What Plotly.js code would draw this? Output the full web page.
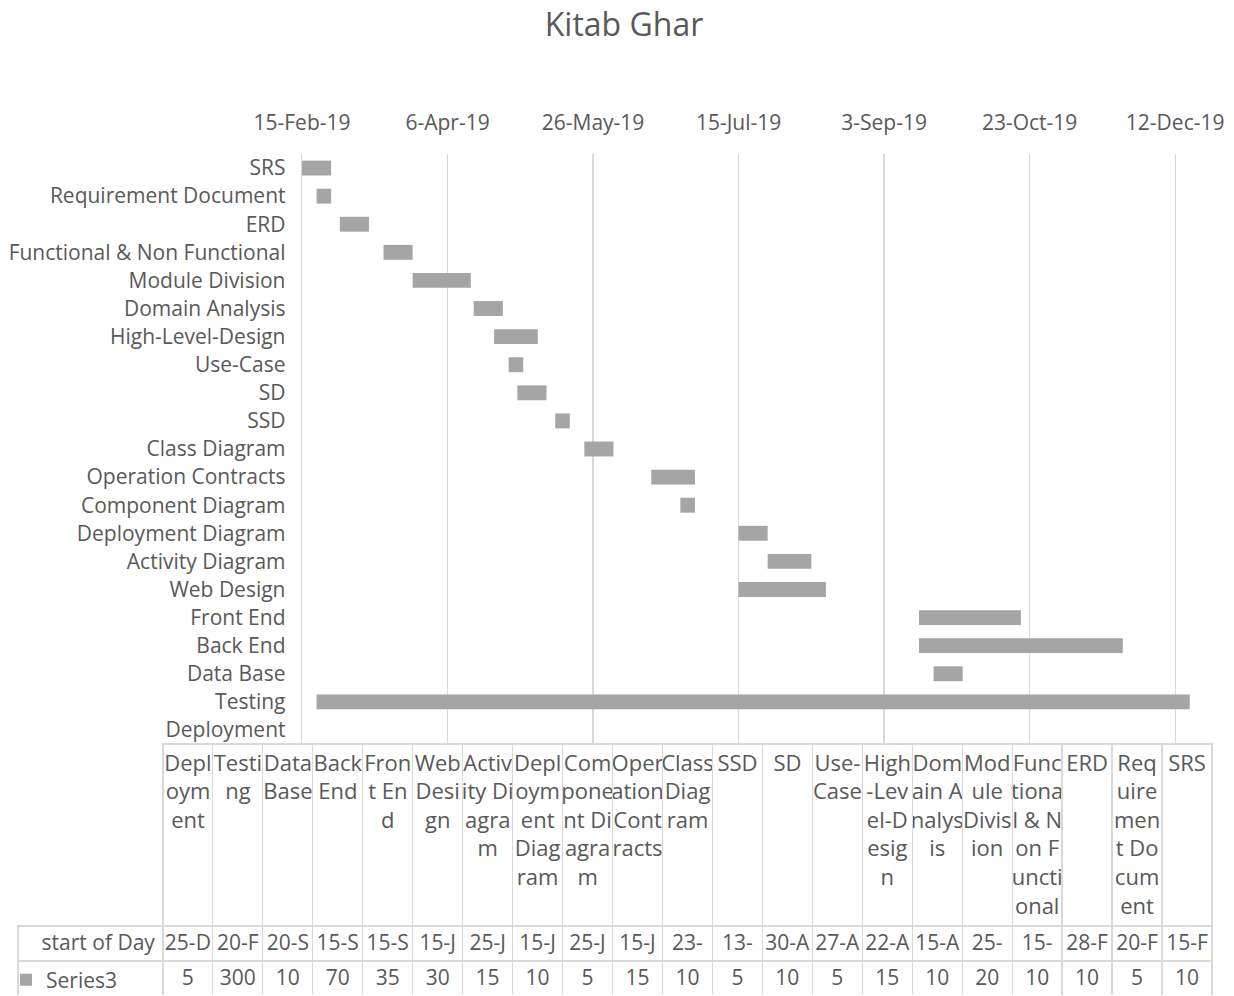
<!DOCTYPE html>
<html><head><meta charset="utf-8">
<script src="https://cdn.plot.ly/plotly-3.0.1.min.js"></script>
<style>html,body{margin:0;padding:0;background:#fff}#chart{width:1234px;height:996px}</style>
</head><body><div id="chart"></div>
<script>
const chartTitle = "Kitab Ghar";
const tasks = ["Deployment","Testing","Data Base","Back End","Front End","Web Design","Activity Diagram","Deployment Diagram","Component Diagram","Operation Contracts","Class Diagram","SSD","SD","Use-Case","High-Level-Design","Domain Analysis","Module Division","Functional & Non Functional","ERD","Requirement Document","SRS"];
const startDates = ["2019-12-25","2019-02-20","2019-09-20","2019-09-15","2019-09-15","2019-07-15","2019-07-25","2019-07-15","2019-06-25","2019-06-15","2019-05-23","2019-05-13","2019-04-30","2019-04-27","2019-04-22","2019-04-15","2019-03-25","2019-03-15","2019-02-28","2019-02-20","2019-02-15"];
const durations = [5,300,10,70,35,30,15,10,5,15,10,5,10,5,15,10,20,10,10,5,10];
const startLabels = ["25-D","20-F","20-S","15-S","15-S","15-J","25-J","15-J","25-J","15-J","23-","13-","30-A","27-A","22-A","15-A","25-","15-","28-F","20-F","15-F"];
const headerLabels = ["Depl<br>oym<br>ent","Testi<br>ng","Data<br>Base","Back<br>End","Fron<br>t En<br>d","Web<br>Desi<br>gn","Activ<br>ity Di<br>agra<br>m","Depl<br>oym<br>ent<br>Diag<br>ram","Com<br>pone<br>nt Di<br>agra<br>m","Oper<br>ation<br>Cont<br>racts","Class<br>Diag<br>ram","SSD","SD","Use-<br>Case","High<br>-Lev<br>el-D<br>esig<br>n","Dom<br>ain A<br>nalys<br>is","Mod<br>ule<br>Divis<br>ion","Func<br>tiona<br>l &amp; N<br>on F<br>uncti<br>onal","ERD","Req<br>uire<br>men<br>t Do<br>cum<br>ent","SRS"];
const rowHeaders = ["start of Day", "Series3"];
const xTickStart = "2019-02-15";
const xRangeEnd = "2019-12-25";
const tickStepDays = 50;

const W = 1234, H = 996;
const DAY = 86400000;
const FONT = '"Open Sans", "Noto Sans", sans-serif';
const GRAY = '#595959';
const BORDER = '#d9d9d9';
const CLEAR = 'rgba(0,0,0,0)';
const py = v => 1 - v / H;
const colW = [145].concat(tasks.map(() => 50));
const tableX = [18 / W, 1212 / W];

const bars = {
  type: 'bar', orientation: 'h', y: tasks, name: rowHeaders[1],
  x: durations.map(d => d * DAY), base: startDates,
  marker: {color: '#a5a5a5'}, hoverinfo: 'skip', showlegend: true
};

// data table: borders + data rows (header cells transparent, their text comes from headerText)
const colVals = [[rowHeaders[0], '']];
tasks.forEach((t, i) => colVals.push([startLabels[i], String(durations[i])]));
const gridTable = {
  type: 'table',
  domain: {x: tableX, y: [0, (H - 744) / H]},
  columnwidth: colW,
  header: {
    values: colW.map(() => ''), height: 182, align: 'center',
    fill: {color: CLEAR},
    line: {color: [CLEAR].concat(tasks.map(() => BORDER)), width: 1.3},
    font: {family: FONT, size: 21, color: GRAY}
  },
  cells: {
    values: colVals, height: 35,
    align: [['right', 'left']].concat(tasks.map(() => 'center')),
    fill: {color: 'white'},
    line: {color: BORDER, width: 1.3},
    font: {family: FONT, size: 21, color: GRAY}
  }
};

// wrapped category names in the table header, placed on a category axis over the table columns
const headerText = {
  type: 'scatter', mode: 'text', xaxis: 'x2', yaxis: 'y2',
  x: tasks, y: tasks.map(() => 10), text: headerLabels,
  textposition: 'bottom center', cliponaxis: false, showlegend: false, hoverinfo: 'skip',
  textfont: {family: FONT, size: 22, color: GRAY}
};

const layout = {
  width: W, height: H, margin: {l: 0, r: 0, t: 0, b: 0, autoexpand: false},
  paper_bgcolor: 'white', plot_bgcolor: CLEAR, bargap: 0.47,
  font: {family: FONT, color: GRAY, size: 21},
  showlegend: true,
  legend: {x: 6 / W, y: py(980), xanchor: 'left', yanchor: 'middle', bgcolor: CLEAR,
           font: {family: FONT, size: 21, color: GRAY}, itemwidth: 30, borderwidth: 0},
  title: {text: chartTitle, x: 624 / W, xanchor: 'center', y: py(25), yanchor: 'middle',
          font: {size: 32, color: GRAY, family: FONT}},
  xaxis: {
    type: 'date', side: 'top', domain: [302 / W, 1213 / W],
    range: [xTickStart, xRangeEnd], tick0: xTickStart, dtick: tickStepDays * DAY,
    tickformat: '%-d-%b-%y', showgrid: true, gridcolor: BORDER, gridwidth: 1.3,
    showline: false, zeroline: false, ticks: '', ticklabelstandoff: 19,
    tickfont: {size: 21, color: GRAY}, fixedrange: true
  },
  yaxis: {
    type: 'category', domain: [py(744), py(154)],
    showline: true, linecolor: BORDER, linewidth: 1.3, showgrid: false,
    ticks: '', ticklabelstandoff: 11, tickfont: {size: 21, color: GRAY}, fixedrange: true
  },
  xaxis2: {
    type: 'category', domain: [163 / W, 1212 / W], anchor: 'y2',
    range: [-0.5, tasks.length - 0.5], visible: false, fixedrange: true
  },
  yaxis2: {
    domain: [py(926), py(744)], anchor: 'x2', range: [182, 0],
    visible: false, fixedrange: true
  }
};

Plotly.newPlot('chart', [bars, gridTable, headerText], layout, {staticPlot: true, displayModeBar: false});
</script></body></html>
